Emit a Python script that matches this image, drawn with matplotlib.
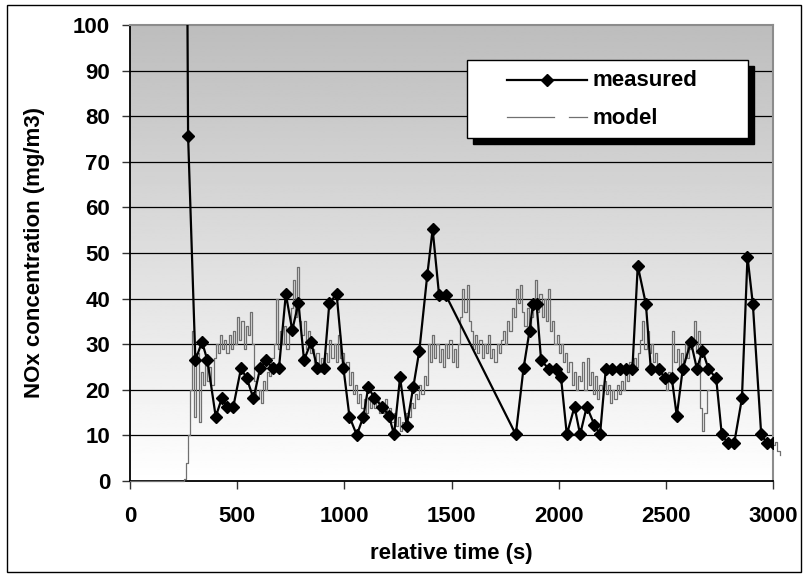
import numpy as np
import matplotlib
matplotlib.use("Agg")
import matplotlib.pyplot as plt
from matplotlib.lines import Line2D
from matplotlib.patches import Rectangle

# ---------------- data ----------------
measured_time = [250, 271, 305, 336, 361, 400, 428, 454, 482, 518, 545, 576, 607, 635, 666,
                 695, 727, 757, 786, 812, 845, 874, 905, 930, 964, 996, 1024, 1058, 1089,
                 1112, 1140, 1178, 1208, 1232, 1260, 1291, 1322, 1350, 1387, 1412, 1442,
                 1473, 1800, 1836, 1864, 1880, 1897, 1918, 1955, 1987, 2011, 2038, 2074,
                 2100, 2131, 2167, 2193, 2220, 2251, 2284, 2315, 2344, 2369, 2407, 2430,
                 2466, 2497, 2528, 2551, 2579, 2617, 2645, 2671, 2699, 2735, 2761, 2789,
                 2819, 2855, 2881, 2906, 2945, 2971, 3002]
measured_value = [260, 75.7, 26.5, 30.5, 26.5, 14.1, 18.1, 16.3, 16.3, 24.7, 22.5, 18.1, 24.7,
                  26.5, 24.7, 24.7, 41.0, 33.1, 39.0, 26.5, 30.5, 24.7, 24.7, 39.0, 41.0,
                  24.7, 14.1, 10.1, 14.1, 20.7, 18.1, 16.3, 14.3, 10.2, 22.7, 12.1, 20.7,
                  28.6, 45.2, 55.2, 40.8, 40.8, 10.2, 24.7, 32.9, 38.8, 38.8, 26.5, 24.5,
                  24.5, 22.7, 10.2, 16.3, 10.2, 16.3, 12.3, 10.2, 24.6, 24.6, 24.6, 24.6,
                  24.6, 47.2, 38.8, 24.6, 24.6, 22.5, 22.5, 14.3, 24.6, 30.5, 24.6, 28.6,
                  24.6, 22.5, 10.2, 8.3, 8.3, 18.1, 49.2, 38.8, 10.2, 8.3, 8.3]

# model signal, sampled every 10 s from t = 250 s
model_start = 250
model_step = 10
model_core = [
    0.5, 4, 10, 20, 33, 14, 28, 13, 24, 21,
    26, 22, 25, 21, 27, 30, 28, 32, 29, 31,
    28, 32, 29, 33, 30, 36, 31, 35, 29, 34,
    32, 37, 30, 22, 18, 20, 17, 22, 20, 24,
    23, 27, 30, 40, 29, 33, 30, 34, 29, 33,
    38, 44, 36, 47, 35, 32, 35, 29, 33, 28,
    29, 25, 28, 24, 27, 25, 28, 26, 31, 27,
    30, 26, 32, 27, 28, 24, 26, 21, 24, 19,
    21, 17, 19, 16, 18, 15, 18, 16, 19, 16,
    18, 15, 17, 15, 18, 14, 16, 13, 15, 12,
    14, 11, 13, 12, 15, 14, 17, 16, 19, 18,
    21, 19, 23, 21, 30, 26, 32, 27, 30, 26,
    29, 25, 30, 27, 31, 26, 29, 25, 30, 36,
    42, 37, 43, 35, 33, 29, 32, 28, 31, 27,
    30, 28, 32, 27, 29, 26, 30, 28, 31, 33,
    30, 35, 33, 38, 36, 42, 39, 43, 37, 34,
    38, 33, 36, 40, 44, 37, 41, 36, 40, 35,
    42, 33, 35, 30, 32, 28, 30, 26, 28, 24,
    26, 21, 24, 20, 23, 22, 26, 20, 27, 21,
    24, 19, 23, 18, 21, 20, 22, 19, 21, 17,
    20, 18, 21, 19, 22, 20, 24, 22, 26, 24,
    27, 25, 28, 31, 35, 29, 33, 28, 30, 26,
    28, 24, 25, 22, 23, 20, 24, 22, 33, 26,
    29, 25, 28, 26, 30, 27, 29, 31, 35, 28,
    33, 16, 11, 15, 20,
]
model_tail_time = [2990, 3000, 3010, 3020, 3033]
model_tail_value = [9, 8, 8.5, 6.5, 5.8]

x_ticks = [0, 500, 1000, 1500, 2000, 2500, 3000]
y_ticks = [0, 10, 20, 30, 40, 50, 60, 70, 80, 90, 100]
x_title = "relative time (s)"
y_title = "NOx concentration (mg/m3)"
legend_labels = ["measured", "model"]

# ---------------- build model arrays ----------------
core_time = list(model_start + model_step * np.arange(len(model_core)))
model_time = [0] + core_time + [core_time[-1] + model_step] + model_tail_time
model_value = [0] + model_core + [np.nan] + model_tail_value

# ---------------- figure ----------------
W, H = 806, 576
fig = plt.figure(figsize=(W / 100, H / 100), dpi=100)
fig.patch.set_facecolor("white")

FONT = "Liberation Sans"
FS = 16

L, R, T, B = 130, 773, 25, 481
ax = fig.add_axes([L / W, 1 - B / H, (R - L) / W, (B - T) / H])

# gradient background of plot area (gray at top, white at bottom)
grad = np.linspace(189, 255, 256).reshape(-1, 1) / 255.0
ax.imshow(grad, extent=[0, 1, 0, 1], origin="upper", transform=ax.transAxes,
          aspect="auto", cmap="gray", vmin=0, vmax=1, zorder=0,
          interpolation="bilinear")

# gridlines
for yv in y_ticks[1:-1]:
    ax.axhline(yv, color="black", lw=0.9, zorder=1)

# model line
ax.plot(model_time, model_value, color="#707070", lw=0.9, drawstyle="steps-post",
        zorder=3, clip_on=False)
# measured line
ax.plot(measured_time, measured_value, color="black", lw=1.6, marker="D",
        markersize=6.6, markerfacecolor="black", markeredgecolor="black", zorder=4)

ax.set_xlim(0, 3000)
ax.set_ylim(0, 100)
ax.set_xticks(x_ticks)
ax.set_yticks(y_ticks)
ax.set_xticklabels([str(v) for v in x_ticks])
ax.set_yticklabels([str(v) for v in y_ticks])

for lab in ax.get_xticklabels() + ax.get_yticklabels():
    lab.set_fontfamily(FONT)
    lab.set_fontweight("bold")
    lab.set_fontsize(FS)

ax.tick_params(axis="y", direction="out", length=5.8, width=1.0, color="#333333", pad=8.5)
ax.tick_params(axis="x", direction="out", length=5.8, width=1.0, color="#333333", pad=12)

for side in ["left", "bottom"]:
    ax.spines[side].set_color("black")
    ax.spines[side].set_linewidth(1.3)
for side in ["top", "right"]:
    ax.spines[side].set_color("#8c8c8c")
    ax.spines[side].set_linewidth(1.5)

ax.set_xlabel(x_title, fontfamily=FONT, fontweight="bold", fontsize=FS)
ax.set_ylabel(y_title, fontfamily=FONT, fontweight="bold", fontsize=FS)
ax.xaxis.label.set_va("center")
ax.yaxis.label.set_va("center")
ax.xaxis.set_label_coords((451 - L) / (R - L), (B - 554) / (B - T))
ax.yaxis.set_label_coords((35 - L) / (R - L), 0.5)

# ---------------- legend (drawn box with black shadow) ----------------
def axx(px):
    return (px - L) / (R - L)

def axy(py):
    return (B - py) / (B - T)

bx0, bx1, by0, by1 = 467, 748, 60, 138
sh = 6
ax.add_patch(Rectangle((axx(bx0 + sh), axy(by1 + sh)), axx(bx1 + sh) - axx(bx0 + sh),
                       axy(by0 + sh) - axy(by1 + sh), transform=ax.transAxes,
                       facecolor="black", edgecolor="black", zorder=6, clip_on=False))
ax.add_patch(Rectangle((axx(bx0), axy(by1)), axx(bx1) - axx(bx0), axy(by0) - axy(by1),
                       transform=ax.transAxes, facecolor="white", edgecolor="black",
                       lw=1.0, zorder=7, clip_on=False))
row1, row2 = 80, 117
ax.add_line(Line2D([axx(507), axx(587)], [axy(row1), axy(row1)], transform=ax.transAxes,
                   color="black", lw=1.6, zorder=8))
ax.add_line(Line2D([axx(547)], [axy(row1)], transform=ax.transAxes, marker="D",
                   markersize=6.6, color="black", zorder=8))
ax.add_line(Line2D([axx(507), axx(554)], [axy(row2), axy(row2)], transform=ax.transAxes,
                   color="#707070", lw=0.9, zorder=8))
ax.add_line(Line2D([axx(569), axx(587)], [axy(row2), axy(row2)], transform=ax.transAxes,
                   color="#707070", lw=0.9, zorder=8))
ax.text(axx(593), axy(86), legend_labels[0], transform=ax.transAxes, fontfamily=FONT,
        fontweight="bold", fontsize=FS, va="baseline", ha="left", zorder=9)
ax.text(axx(593), axy(124), legend_labels[1], transform=ax.transAxes, fontfamily=FONT,
        fontweight="bold", fontsize=FS, va="baseline", ha="left", zorder=9)

# outer border of the chart
fig.add_artist(Rectangle((7 / W, 1 - 572 / H), (801 - 7) / W, (572 - 5) / H,
                         transform=fig.transFigure, fill=False, edgecolor="black", lw=1.0))

fig.savefig("out.png", dpi=100)
